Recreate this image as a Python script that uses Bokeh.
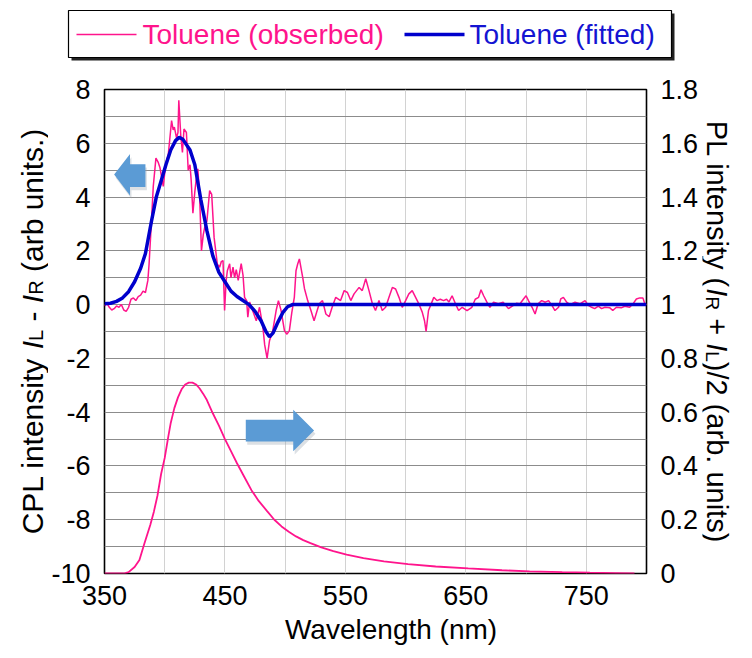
import math
from bokeh.plotting import figure
from bokeh.models import (Range1d, LinearAxis, FixedTicker, CustomJSTickFormatter,
                          PolyAnnotation)
from bokeh.layouts import column, row
from bokeh.embed import file_html
from bokeh.resources import INLINE
from bokeh.core.properties import value

# ---------------- data ----------------
series_names = ["Toluene (obserbed)", "Toluene (fitted)"]

obs_wl = [350, 352, 354, 356, 358, 360, 362, 364, 366, 368, 370, 372, 374, 376, 378, 380,
          382, 384, 386, 387, 389, 390.5, 392.7, 394.5, 396, 398.8, 400, 401.5, 403, 405.7,
          407, 408, 409.8, 411, 411.7, 413.3, 414.7, 416, 418, 419.5, 421, 422, 423.4, 425,
          426, 427.5, 429, 430.5, 432, 433.2, 435, 437.3, 439, 441, 443.7, 445.6, 447, 448.4,
          449.7, 451, 452, 453.9, 455, 456.7, 458, 459.4, 461, 463.5, 465, 466.3, 468, 469,
          470.5, 473, 476, 478.7, 481.5, 483, 485, 487, 489.7, 492.5, 494.4, 496.6, 499.4,
          501.5, 503.5, 505.5, 507.6, 509, 510.4, 511.8, 514.6, 516, 518.7, 521.4, 524, 526,
          528.3, 531, 533.8, 536.5, 539, 542, 546, 549, 551.7, 554.5, 557.2, 561.4, 564,
          566.9, 569.6, 572.4, 575, 577.9, 580.6, 583.4, 586.2, 589, 591.7, 594.5, 597.2,
          600, 602.7, 605.5, 608.3, 611, 613.8, 615.7, 617, 619, 621, 623.4, 626, 628.8,
          631.5, 634, 636, 638.6, 641.4, 644, 647, 651, 655, 657.8, 660.6, 662.6, 664.8,
          667.5, 670, 673, 677, 681, 685.4, 689.5, 692, 695, 697.9, 700, 702, 705, 707.5,
          710, 713, 716, 718.7, 721.5, 724, 727, 728.8, 731, 733.7, 736.5, 740.6, 744.7,
          749, 751.7, 754.5, 757, 760, 762.7, 765.5, 769.6, 772, 775, 779, 782, 786, 788.8,
          791.6, 794.4, 797, 798.6, 800]
obs_cpl = [-0.05, 0.05, -0.1, -0.2, -0.15, -0.05, -0.1, 0.0, -0.2, -0.25, -0.1, 0.2, 0.25,
           0.15, 0.3, 0.35, 0.5, 0.45, 0.9, 1.5, 3.1, 4.4, 5.45, 5.3, 5.1, 4.4, 4.9, 5.35,
           5.6, 6.84, 6.5, 6.6, 6.2, 6.4, 7.6, 6.3, 5.66, 6.53, 6.4, 5.0, 5.2, 4.6, 3.4, 4.2,
           4.6, 5.05, 4.0, 2.0, 2.6, 2.87, 3.1, 4.24, 4.1, 2.5, 1.5, 1.39, 1.6, 1.64, -0.22,
           0.89, 1.26, 1.52, 1.0, 1.39, 1.0, 1.3, 0.9, 1.52, 1.1, 0.27, 0.15, -0.47, 0.1,
           -0.22, -0.6, -0.1, -0.84, -1.5, -2.0, -1.34, -0.97, -0.22, 0.15, -0.22, -0.97,
           -1.1, -0.97, -0.3, 0.27, 1.26, 1.51, 1.7, 1.0, 0.6, 0.15, -0.22, -0.6, -0.3, 0.03,
           0.15, -0.35, -0.45, -0.1, 0.27, 0.15, 0.52, 0.45, 0.15, 0.4, 0.64, 0.52, 0.96,
           0.52, 0.03, -0.22, 0.15, -0.22, -0.1, 0.27, 0.64, 0.58, 0.27, -0.1, 0.15, 0.4,
           0.52, 0.27, 0.03, -0.28, -0.6, -1.0, -0.22, 0.0, 0.27, 0.15, 0.2, 0.15, 0.2, 0.1,
           0.33, 0.03, -0.22, -0.1, -0.22, -0.1, 0.2, 0.27, 0.55, 0.33, 0.09, -0.1, 0.09,
           0.03, 0.09, -0.15, -0.03, 0.05, 0.03, 0.21, 0.33, 0.15, -0.1, -0.35, 0.03, 0.15,
           0.09, 0.15, -0.03, -0.22, -0.1, 0.21, 0.27, 0.09, 0.0, 0.09, 0.03, 0.15, -0.03,
           -0.1, -0.15, -0.06, -0.15, -0.1, -0.12, -0.22, -0.1, -0.12, -0.06, -0.1, 0.03,
           0.21, 0.25, 0.25, 0.03, 0.0]

fit_wl = [350, 355, 360, 365, 370, 375, 380, 384, 389, 393, 397, 401, 405, 409, 412, 415,
          418, 421, 425, 430, 435, 440, 445, 450, 455, 460, 465, 470, 475, 480, 484, 487,
          490, 494, 498, 502, 506, 800]
fit_cpl = [0.03, 0.05, 0.12, 0.25, 0.48, 0.85, 1.35, 1.9, 3.1, 4.0, 4.6, 5.2, 5.75, 6.1,
           6.22, 6.15, 5.95, 5.75, 5.2, 3.9, 2.75, 1.8, 1.2, 0.85, 0.5, 0.3, 0.15, 0.0,
           -0.25, -0.6, -1.0, -1.2, -1.05, -0.65, -0.3, -0.08, 0.0, 0.0]

pl_wl = [350, 360, 366, 370, 375, 379, 383, 388, 391, 394, 397, 400, 403, 405, 408, 411,
         414, 417, 420, 423, 426, 429, 432, 435, 440, 445, 450, 455, 460, 466, 472, 478,
         485, 491, 497, 503, 509, 515, 521, 530, 540, 551, 565, 582, 602, 625, 652, 680,
         703, 730, 753, 775, 790]
pl_int = [0.0, 0.0, 0.0, 0.005, 0.024, 0.05, 0.11, 0.18, 0.23, 0.29, 0.37, 0.43, 0.51,
          0.56, 0.615, 0.655, 0.685, 0.703, 0.71, 0.71, 0.703, 0.688, 0.668, 0.645, 0.595,
          0.55, 0.50, 0.455, 0.41, 0.36, 0.31, 0.27, 0.232, 0.20, 0.175, 0.155, 0.138,
          0.124, 0.113, 0.097, 0.083, 0.070, 0.057, 0.045, 0.035, 0.026, 0.019, 0.012,
          0.008, 0.005, 0.003, 0.0015, 0.0]

x_ticks = [350, 450, 550, 650, 750]
cpl_ticks = [-10, -8, -6, -4, -2, 0, 2, 4, 6, 8]
pl_ticks = [0, 0.2, 0.4, 0.6, 0.8, 1.0, 1.2, 1.4, 1.6, 1.8]

x_title = "Wavelength (nm)"
left_title = [("CPL intensity ", "normal", False), ("I", "italic", False),
              ("L", "normal", True), (" - ", "normal", False), ("I", "italic", False),
              ("R", "normal", True), (" (arb units.)", "normal", False)]
right_title = [("PL intensity (", "normal", False), ("I", "italic", False),
               ("R", "normal", True), (" + ", "normal", False), ("I", "italic", False),
               ("L", "normal", True), (")/2 (arb. units)", "normal", False)]

# ---------------- style ----------------
PINK = "#ff148c"
BLUE = "#0000cc"
ARROW = "#5b9bd5"
FONT = "Liberation Sans"
TICK_FS = 27
LAB_FS = 28

TOP_H = 70          # legend strip height
LEFT_W = 48         # left title strip
RIGHT_W = 50        # right title strip
MAIN_H = 588
BORDER_T, BORDER_B = 19, 85
FRAME_H = MAIN_H - BORDER_T - BORDER_B

p = figure(width=752 - LEFT_W - RIGHT_W, height=MAIN_H,
           x_range=Range1d(350, 800), y_range=Range1d(-10, 8),
           output_backend="svg", toolbar_location=None,
           min_border_left=102 - LEFT_W, min_border_right=752 - RIGHT_W - 646,
           min_border_top=BORDER_T, min_border_bottom=BORDER_B)
p.frame_align = False
p.border_fill_color = None
p.extra_y_ranges = {"pl": Range1d(0, 1.8)}
p.outline_line_color = "black"
p.outline_line_width = 1.6
p.background_fill_color = "white"

p.xaxis.ticker = FixedTicker(ticks=x_ticks, minor_ticks=[t + 50 for t in x_ticks])
p.yaxis.ticker = FixedTicker(ticks=cpl_ticks, minor_ticks=[t + 1 for t in cpl_ticks[:-1]])
p.yaxis.formatter = CustomJSTickFormatter(code="return Math.round(tick).toString();")

pl_axis = LinearAxis(y_range_name="pl", ticker=FixedTicker(ticks=pl_ticks),
                     formatter=CustomJSTickFormatter(
                         code="return (Math.round(tick*10)/10).toString();"))
p.add_layout(pl_axis, "right")

for ax in [p.xaxis[0], p.yaxis[0], pl_axis]:
    ax.major_tick_out = 0
    ax.major_tick_in = 0
    ax.minor_tick_out = 0
    ax.minor_tick_in = 0
    ax.axis_line_color = None
    ax.major_label_text_font = FONT
    ax.major_label_text_font_size = f"{TICK_FS}px"
    ax.major_label_text_color = "black"
p.xaxis.major_label_standoff = 12
p.yaxis.major_label_standoff = 14
pl_axis.major_label_standoff = 14

# the title sits a little right of the frame centre in the reference
p.xaxis.axis_label = "\u00a0" * 4 + x_title
p.xaxis.axis_label_text_font = FONT
p.xaxis.axis_label_text_font_size = f"{LAB_FS}px"
p.xaxis.axis_label_text_font_style = "normal"
p.xaxis.axis_label_text_color = "black"
p.xaxis.axis_label_standoff = 6

p.xgrid.grid_line_color = "#d2d2d2"
p.xgrid.minor_grid_line_color = "#d2d2d2"
p.ygrid.grid_line_color = "#8c8c8c"
p.ygrid.minor_grid_line_color = "#8c8c8c"

# arrows (decorations, in data coords)
left_arrow_x = [358, 371.2, 371.2, 384, 384, 371.2, 371.2]
left_arrow_y = [4.84, 5.6, 5.22, 5.22, 4.37, 4.37, 4.06]
right_arrow_x = [524, 506.7, 506.7, 467.3, 467.3, 506.7, 506.7]
right_arrow_y = [-4.68, -3.91, -4.28, -4.28, -5.09, -5.09, -5.45]
for xs, ys in [(left_arrow_x, left_arrow_y), (right_arrow_x, right_arrow_y)]:
    p.add_layout(PolyAnnotation(xs=[x + 1.2 for x in xs], ys=[y - 0.12 for y in ys],
                                fill_color="#9aa6b2", fill_alpha=0.35, line_color=None))
    p.add_layout(PolyAnnotation(xs=xs, ys=ys, fill_color=ARROW, fill_alpha=1.0,
                                line_color=None))

# curves
p.line(obs_wl, obs_cpl, color=PINK, line_width=1.5)
p.line(fit_wl, fit_cpl, color=BLUE, line_width=3.5)
p.line(pl_wl, pl_int, color=PINK, line_width=1.8, y_range_name="pl")

# ---------------- vertical axis titles (side strips) ----------------
W = {' ': 278, '(': 333, ')': 333, '+': 584, '-': 333, '.': 278, '/': 278, '2': 556,
     'C': 722, 'I': 278, 'L': 556, 'P': 667, 'R': 722, 'a': 556, 'b': 556, 'e': 556,
     'i': 222, 'n': 556, 'r': 333, 's': 500, 't': 278, 'u': 556, 'y': 500}


def tw(s, fs):
    return sum(W[c] for c in s) * fs / 1000.0


def strip(width):
    f = figure(width=width, height=MAIN_H, x_range=Range1d(0, width),
               y_range=Range1d(0, FRAME_H), output_backend="svg", toolbar_location=None,
               min_border_left=0, min_border_right=0, min_border_top=BORDER_T,
               min_border_bottom=BORDER_B, x_axis_location=None, y_axis_location=None)
    f.frame_align = False
    f.grid.visible = False
    f.outline_line_color = None
    f.border_fill_color = None
    return f


def vtitle(f, pieces, x_base, direction, fs_main, fs_sub, sub_off):
    total = sum(tw(t, fs_sub if sub else fs_main) for t, _, sub in pieces)
    pos = FRAME_H / 2 - direction * total / 2
    for t, style, sub in pieces:
        fs = fs_sub if sub else fs_main
        lead = len(t) - len(t.lstrip(" "))
        x = x_base + (direction * sub_off if sub else 0)
        f.text(x=[x], y=[pos + direction * tw(" " * lead, fs)], text=[t.strip()],
               angle=direction * math.pi / 2, text_align="left",
               text_baseline="alphabetic", text_font=value(FONT),
               text_font_size=f"{fs}px", text_font_style=value(style),
               text_color="black")
        pos += direction * tw(t, fs)


ls = strip(LEFT_W)
vtitle(ls, left_title, 32, 1, 30, 20, 3)
rs = strip(RIGHT_W)
vtitle(rs, right_title, 716 - (752 - RIGHT_W), -1, 29, 19, 4)

# ---------------- legend strip on top ----------------
lg = figure(width=752, height=TOP_H, x_range=Range1d(0, 752), y_range=Range1d(TOP_H, 0),
            output_backend="svg", toolbar_location=None, min_border=0,
            x_axis_location=None, y_axis_location=None)
lg.frame_align = False
lg.grid.visible = False
lg.outline_line_color = None
lg.quad(left=[71], right=[674], top=[13], bottom=[60], fill_color="#222222",
        line_color=None)
lg.quad(left=[68], right=[671], top=[10], bottom=[57], fill_color="white",
        line_color="black", line_width=1.2)
lg.line([76, 136], [34, 34], color=PINK, line_width=1.5)
lg.text(x=[142], y=[34], text=[series_names[0]], text_font=value(FONT),
        text_font_size=f"{LAB_FS}px", text_color=PINK, text_baseline="middle")
lg.line([404, 464], [34, 34], color=BLUE, line_width=3.5)
lg.text(x=[469], y=[34], text=[series_names[1]], text_font=value(FONT),
        text_font_size=f"{LAB_FS}px", text_color="#1414d2", text_baseline="middle")

layout = column(lg, row(ls, p, rs, spacing=0), spacing=0)
open("out.html", "w").write(file_html(layout, INLINE))
